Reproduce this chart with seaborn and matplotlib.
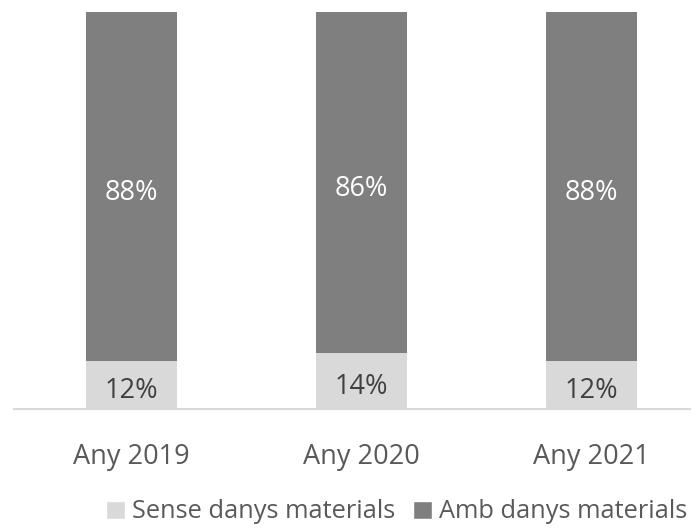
import matplotlib
matplotlib.use("Agg")
import matplotlib.pyplot as plt
import seaborn as sns
import pandas as pd
from matplotlib.patches import Patch

categories = ["Any 2019", "Any 2020", "Any 2021"]
sense = [12, 14, 12]
amb = [88, 86, 88]
series_names = ["Sense danys materials", "Amb danys materials"]

sns.set_theme(style="white")
plt.rcParams['font.family'] = ['Open Sans', 'DejaVu Sans']

light = "#d9d9d9"
dark = "#7f7f7f"
txt = "#595959"

df = pd.DataFrame({"cat": categories, "sense": sense, "amb": amb})
df["total"] = df["sense"] + df["amb"]

fig = plt.figure(figsize=(6.96, 5.32), dpi=100)
ax = fig.add_axes([14/696, 123/532, 676/696, 397/532])

w = 0.396
sns.barplot(data=df, x="cat", y="total", color=dark, width=w, ax=ax, saturation=1, edgecolor="none")
sns.barplot(data=df, x="cat", y="sense", color=light, width=w, ax=ax, saturation=1, edgecolor="none")

for i in range(len(categories)):
    ax.text(i, sense[i] / 2 - 1.4, f"{sense[i]}%", ha="center", va="center", fontsize=19.5, color="#404040")
    ax.text(i, sense[i] + amb[i] / 2 - 1.6, f"{amb[i]}%", ha="center", va="center", fontsize=19.5, color="white")

ax.set_xlim(-0.511, 2.428)
ax.set_ylim(0, 100)
ax.set_xlabel("")
ax.set_ylabel("")
ax.set_yticks([])
for s in ["top", "right", "left"]:
    ax.spines[s].set_visible(False)
ax.spines["bottom"].set_color(light)
ax.spines["bottom"].set_linewidth(1.5)
ax.tick_params(axis="x", length=0, pad=24.5, labelsize=19.5, labelcolor=txt)

handles = [Patch(facecolor=light, label=series_names[0]), Patch(facecolor=dark, label=series_names[1])]
fig.legend(handles=handles, loc="center", bbox_to_anchor=(397/696, 1 - 512/532), ncol=2, frameon=False,
           fontsize=18.3, labelcolor=txt, handlelength=0.72, handleheight=0.72, handletextpad=0.3,
           columnspacing=0.7, borderaxespad=0, borderpad=0)

fig.savefig("out.png", dpi=100)
